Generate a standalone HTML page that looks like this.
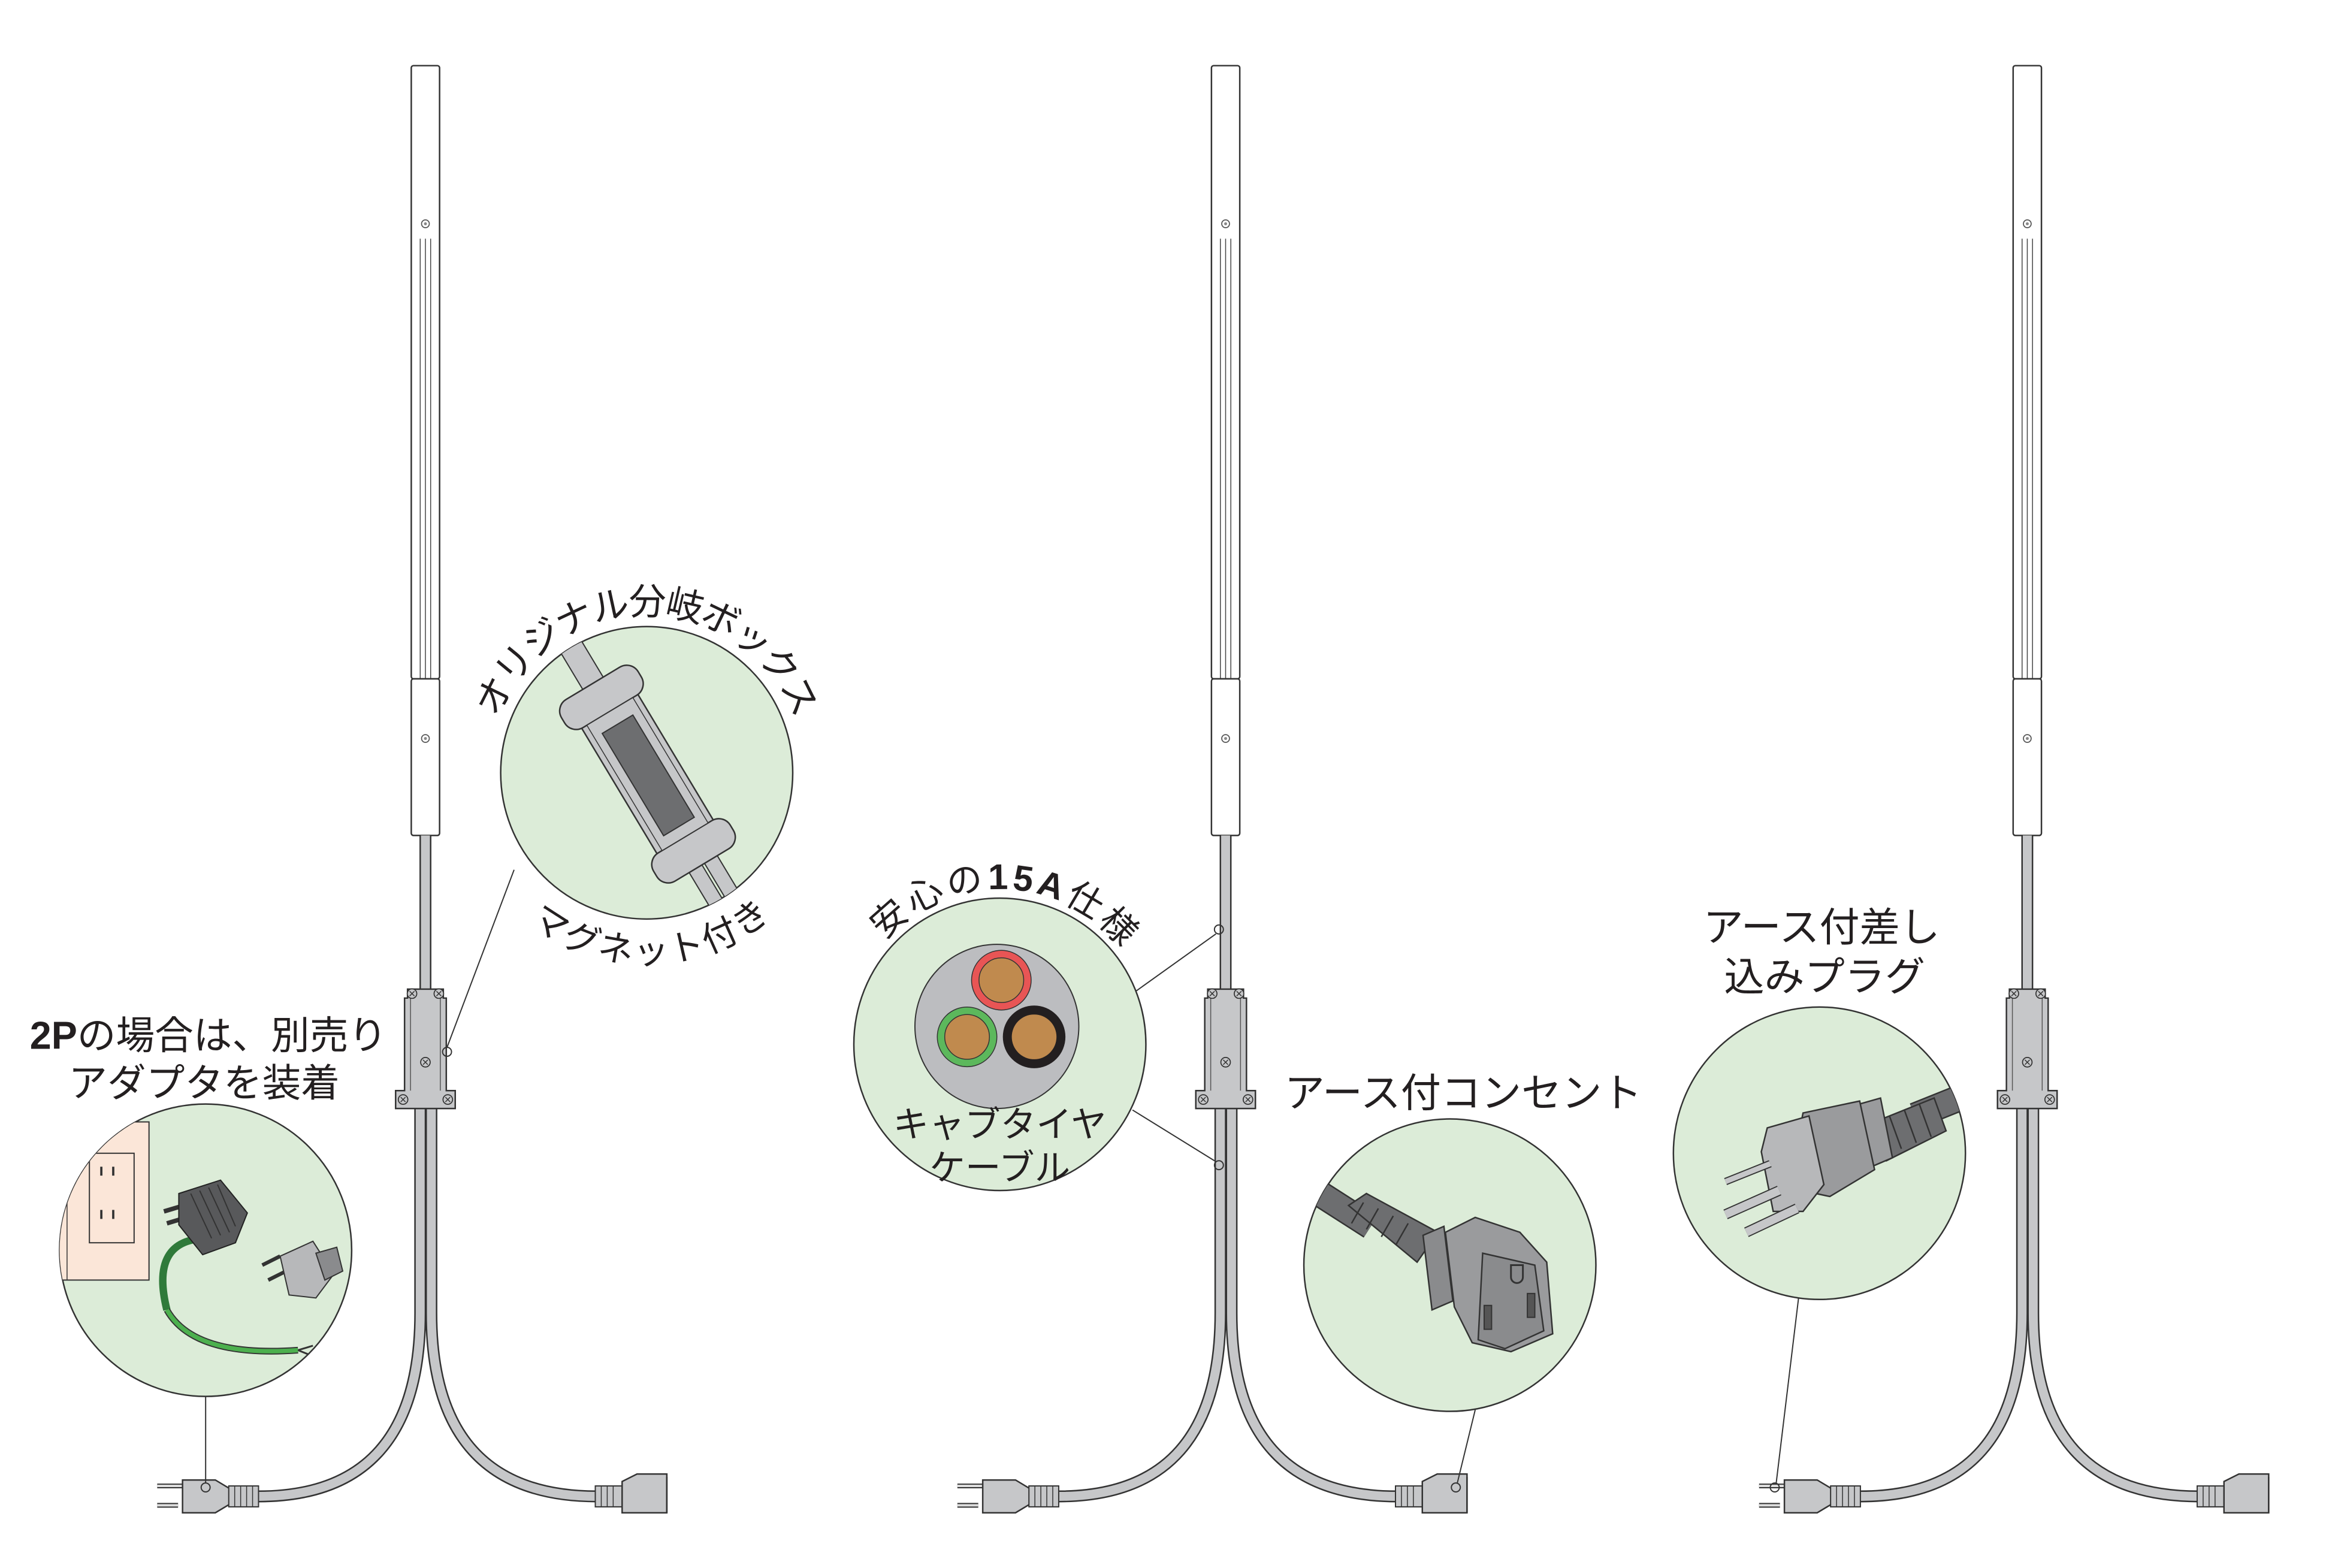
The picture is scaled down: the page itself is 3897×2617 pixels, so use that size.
<!DOCTYPE html>
<html><head><meta charset="utf-8"><style>
html,body{margin:0;padding:0;background:#fff;}
svg{display:block;}
text{font-family:"Liberation Sans","Noto Sans CJK JP",sans-serif;fill:#231f20;}
</style></head><body>
<svg width="3897" height="2617" viewBox="0 0 1567 1051" preserveAspectRatio="none" xmlns="http://www.w3.org/2000/svg">
<defs>
<g id="screw"><circle r="3.2" fill="#c6c7c9" stroke="#333" stroke-width="0.7"/><path d="M-1.6-1.6L1.6 1.6M-1.6 1.6L1.6-1.6" stroke="#333" stroke-width="0.6"/></g>
<g id="pole">
  <rect x="-9.5" y="44" width="19" height="411" rx="1.5" fill="#fff" stroke="#333" stroke-width="1"/>
  <path d="M-3.5 160V455M0 160V455M3.5 160V455" stroke="#444" stroke-width="0.6"/>
  <circle cx="0" cy="150" r="2.6" fill="none" stroke="#555" stroke-width="0.7"/><circle cx="0" cy="150" r="1" fill="#888"/>
  <rect x="-9.5" y="455" width="19" height="105" rx="1.5" fill="#fff" stroke="#333" stroke-width="1"/>
  <circle cx="0" cy="495" r="2.6" fill="none" stroke="#555" stroke-width="0.7"/><circle cx="0" cy="495" r="1" fill="#888"/>
  <line x1="0" y1="560" x2="0" y2="668" stroke="#333" stroke-width="8"/>
  <line x1="0" y1="560" x2="0" y2="668" stroke="#c6c7c9" stroke-width="6"/>
  <path d="M-3.5 740L-3.5 880Q-3.5 1003-112 1003M4 740L4 880Q4 1003 115 1003" fill="none" stroke="#333" stroke-width="8"/>
  <path d="M-3.5 740L-3.5 880Q-3.5 1003-112 1003M4 740L4 880Q4 1003 115 1003" fill="none" stroke="#c6c7c9" stroke-width="6"/>
  <path d="M-12 663h24v6h2v62h6v12h-40v-12h6v-62h2z" fill="#c6c7c9" stroke="#333" stroke-width="1"/>
  <path d="M-10 669v62M10 669v62" stroke="#555" stroke-width="0.6"/>
  <use href="#screw" x="-9" y="666"/><use href="#screw" x="9" y="666"/><use href="#screw" x="0" y="712"/>
  <use href="#screw" x="-15" y="737"/><use href="#screw" x="15" y="737"/>
  <path d="M-180 996h18M-180 1009h14" stroke="#333" stroke-width="3.2"/>
  <path d="M-180 996h18M-180 1009h14" stroke="#ddd" stroke-width="1.6"/>
  <path d="M-163 992h22l10 6v10l-10 6h-22z" fill="#c6c7c9" stroke="#333" stroke-width="1"/>
  <rect x="-132" y="996" width="20" height="14" fill="#c6c7c9" stroke="#333" stroke-width="0.8"/>
  <path d="M-128 996v14M-124 996v14M-120 996v14M-116 996v14" stroke="#333" stroke-width="0.6"/>
  <rect x="114" y="996" width="18" height="14" fill="#c6c7c9" stroke="#333" stroke-width="0.8"/>
  <path d="M118 996v14M122 996v14M126 996v14" stroke="#333" stroke-width="0.6"/>
  <path d="M132 993l10-5h20v26h-30z" fill="#c6c7c9" stroke="#333" stroke-width="1"/>
  <path d="M162 990v24" stroke="#333" stroke-width="1"/>
</g>
</defs>
<rect width="1567" height="1051" fill="#fff"/>

<use href="#pole" x="285.5"/>
<use href="#pole" x="822.5"/>
<use href="#pole" x="1360.5"/>

<g stroke="#333" stroke-width="0.8" fill="none">
<line x1="345" y1="583" x2="300" y2="702"/><circle cx="300" cy="705" r="3"/>
<line x1="138" y1="936" x2="138" y2="994"/><circle cx="138" cy="997" r="3"/>
<line x1="760" y1="666" x2="816" y2="626"/><circle cx="818" cy="623" r="3"/>
<line x1="760" y1="744" x2="815" y2="778"/><circle cx="818" cy="781" r="3"/>
<line x1="990" y1="945" x2="978" y2="994"/><circle cx="977" cy="997" r="3"/>
<line x1="1207" y1="870" x2="1192" y2="994"/><circle cx="1191" cy="997" r="3"/>
</g>

<circle cx="434" cy="518" r="98" fill="#dcecd8" stroke="#333" stroke-width="1"/>
<clipPath id="c1"><circle cx="434" cy="518" r="98"/></clipPath>
<g clip-path="url(#c1)" transform="rotate(-31 434 518)">
  <rect x="426" y="380" width="16" height="90" fill="#c6c7c9" stroke="#333" stroke-width="0.8"/>
  <rect x="424" y="570" width="10" height="80" fill="#c6c7c9" stroke="#333" stroke-width="0.8"/>
  <rect x="436" y="570" width="10" height="80" fill="#c6c7c9" stroke="#333" stroke-width="0.8"/>
  <rect x="412" y="450" width="44" height="130" fill="#c6c7c9" stroke="#333" stroke-width="1"/>
  <rect x="404" y="448" width="60" height="22" rx="9" fill="#c6c7c9" stroke="#333" stroke-width="1"/>
  <rect x="404" y="568" width="60" height="22" rx="9" fill="#c6c7c9" stroke="#333" stroke-width="1"/>
  <rect x="416" y="470" width="36" height="98" fill="#c6c7c9" stroke="#333" stroke-width="0.6"/>
  <rect x="422" y="480" width="24" height="80" fill="#6d6e70" stroke="#333" stroke-width="0.8"/>
</g>
<path id="a1" d="M334.4 481.7 A106 106 0 0 1 533.6 481.7" fill="none"/>
<text font-size="25"><textPath href="#a1" textLength="259" lengthAdjust="spacing">オリジナル分岐ボックス</textPath></text>
<path id="a2" d="M355.2 618.9 A128 128 0 0 0 519.6 613.1" fill="none"/>
<text font-size="24"><textPath href="#a2" textLength="176" lengthAdjust="spacing">マグネット付き</textPath></text>

<circle cx="138" cy="838" r="98" fill="#dcecd8" stroke="#333" stroke-width="1"/>
<clipPath id="c2"><circle cx="138" cy="838" r="98"/></clipPath>
<g clip-path="url(#c2)">
  <rect x="30" y="752" width="70" height="106" fill="#fbe6d8" stroke="#333" stroke-width="0.8"/>
  <line x1="45" y1="858" x2="45" y2="790" stroke="#333" stroke-width="0.6"/>
  <rect x="60" y="773" width="30" height="60" fill="#fbe6d8" stroke="#333" stroke-width="0.8"/>
  <path d="M68 782v6M76 782v6M68 811v6M76 811v6" stroke="#333" stroke-width="1.5"/>
  <path d="M112 878Q100 830 140 830" fill="none" stroke="#2f7a3a" stroke-width="5"/>
  <path d="M112 878Q130 910 200 905" fill="none" stroke="#333" stroke-width="4.5"/>
  <path d="M112 878Q130 910 200 905" fill="none" stroke="#4cb04e" stroke-width="3"/>
  <path d="M200 905l10-3M200 905l10 4" stroke="#333" stroke-width="1.2"/>
  <path d="M110 812l10-3M112 820l10-3" stroke="#333" stroke-width="3"/>
  <path d="M120 800l28-9 18 22-8 20-22 8-16-20z" fill="#58595b" stroke="#222" stroke-width="0.8"/>
  <path d="M128 800l14 30M134 798l14 30M140 796l14 30M146 794l12 28" stroke="#333" stroke-width="0.8"/>
  <path d="M176 848l12-6M180 858l12-6" stroke="#333" stroke-width="2.5"/>
  <path d="M188 842l22-10 14 22-12 16-18-2z" fill="#b7b8ba" stroke="#333" stroke-width="0.8"/>
  <path d="M212 840l14-4 4 16-12 6z" fill="#8a8b8d" stroke="#333" stroke-width="0.8"/>
</g>
<text x="20" y="703" font-size="26"><tspan font-weight="bold">2P</tspan>の場合は、別売り</text>
<text x="46" y="735" font-size="26">アダプタを装着</text>

<circle cx="671" cy="700" r="98" fill="#dcecd8" stroke="#333" stroke-width="1"/>
<circle cx="669" cy="688" r="55" fill="#bcbdc0" stroke="#333" stroke-width="0.8"/>
<circle cx="672" cy="657" r="20" fill="#e85555" stroke="#333" stroke-width="0.6"/>
<circle cx="672" cy="657" r="15" fill="#c08a4e" stroke="#333" stroke-width="0.6"/>
<circle cx="649" cy="695" r="20" fill="#5cb85c" stroke="#333" stroke-width="0.6"/>
<circle cx="649" cy="695" r="15" fill="#c08a4e" stroke="#333" stroke-width="0.6"/>
<circle cx="694" cy="695" r="21" fill="#231f20"/>
<circle cx="694" cy="695" r="15" fill="#c08a4e"/>
<text x="671" y="762" font-size="24" text-anchor="middle">キャブタイヤ</text>
<text x="671" y="791" font-size="24" text-anchor="middle">ケーブル</text>
<path id="a3" d="M593.7 630.4 A104 104 0 0 1 753 636" fill="none"/>
<text font-size="24"><textPath href="#a3" textLength="181" lengthAdjust="spacing"><tspan>安心の</tspan><tspan font-weight="bold">15A</tspan><tspan>仕様</tspan></textPath></text>

<text x="862" y="742" font-size="27">アース付コンセント</text>
<circle cx="973" cy="848" r="98" fill="#dcecd8" stroke="#333" stroke-width="1"/>
<clipPath id="c4"><circle cx="973" cy="848" r="98"/></clipPath>
<g clip-path="url(#c4)">
  <path d="M870 790L920 822" stroke="#333" stroke-width="18"/>
  <path d="M870 790L920 822" stroke="#6d6e70" stroke-width="16"/>
  <path d="M905 808l12-8 48 26-14 20z" fill="#6d6e70" stroke="#333" stroke-width="1"/>
  <path d="M915 806l-8 14M925 810l-8 14M935 815l-8 14M945 820l-8 14" stroke="#333" stroke-width="1"/>
  <path d="M955 828l14-6 6 50-14 6z" fill="#8a8b8d" stroke="#333" stroke-width="1"/>
  <path d="M970 826l20-10 30 10 18 20 4 48-28 12-26-6-12-24z" fill="#9a9b9d" stroke="#333" stroke-width="1"/>
  <path d="M995 840l35 8 6 44-26 12-18-6z" fill="#8a8b8d" stroke="#333" stroke-width="1"/>
  <path d="M1014 848h8v8a4 4 0 0 1-8 0z" fill="none" stroke="#333" stroke-width="1.2"/>
  <rect x="1025" y="867" width="5" height="16" fill="#555" stroke="#333" stroke-width="0.8"/>
  <rect x="996" y="875" width="5" height="16" fill="#555" stroke="#333" stroke-width="0.8"/>
</g>

<text x="1143" y="631" font-size="27">アース付差し</text>
<text x="1157" y="664" font-size="27">込みプラグ</text>
<circle cx="1221" cy="773" r="98" fill="#dcecd8" stroke="#333" stroke-width="1"/>
<clipPath id="c5"><circle cx="1221" cy="773" r="98"/></clipPath>
<g clip-path="url(#c5)">
  <path d="M1330 730L1285 748" stroke="#333" stroke-width="18"/>
  <path d="M1330 730L1285 748" stroke="#6d6e70" stroke-width="16"/>
  <path d="M1258 752l40-16 8 22-40 20z" fill="#6d6e70" stroke="#333" stroke-width="1"/>
  <path d="M1268 748l8 22M1278 744l8 22M1288 740l8 22" stroke="#333" stroke-width="1"/>
  <path d="M1248 740l14-4 8 40-14 6z" fill="#9a9b9d" stroke="#333" stroke-width="1"/>
  <path d="M1210 746l38-8 10 46-30 18-28-6z" fill="#9a9b9d" stroke="#333" stroke-width="1"/>
  <path d="M1186 756l28-8 10 46-14 18-20 0-8-40z" fill="#b7b8ba" stroke="#333" stroke-width="1"/>
  <path d="M1188 780l-30 12" stroke="#333" stroke-width="5"/>
  <path d="M1188 780l-30 12" stroke="#c6c7c9" stroke-width="3.5"/>
  <path d="M1194 798l-36 16" stroke="#333" stroke-width="7"/>
  <path d="M1194 798l-36 16" stroke="#c6c7c9" stroke-width="5.5"/>
  <path d="M1206 810l-34 16" stroke="#333" stroke-width="7"/>
  <path d="M1206 810l-34 16" stroke="#c6c7c9" stroke-width="5.5"/>
</g>
</svg>
</body></html>
